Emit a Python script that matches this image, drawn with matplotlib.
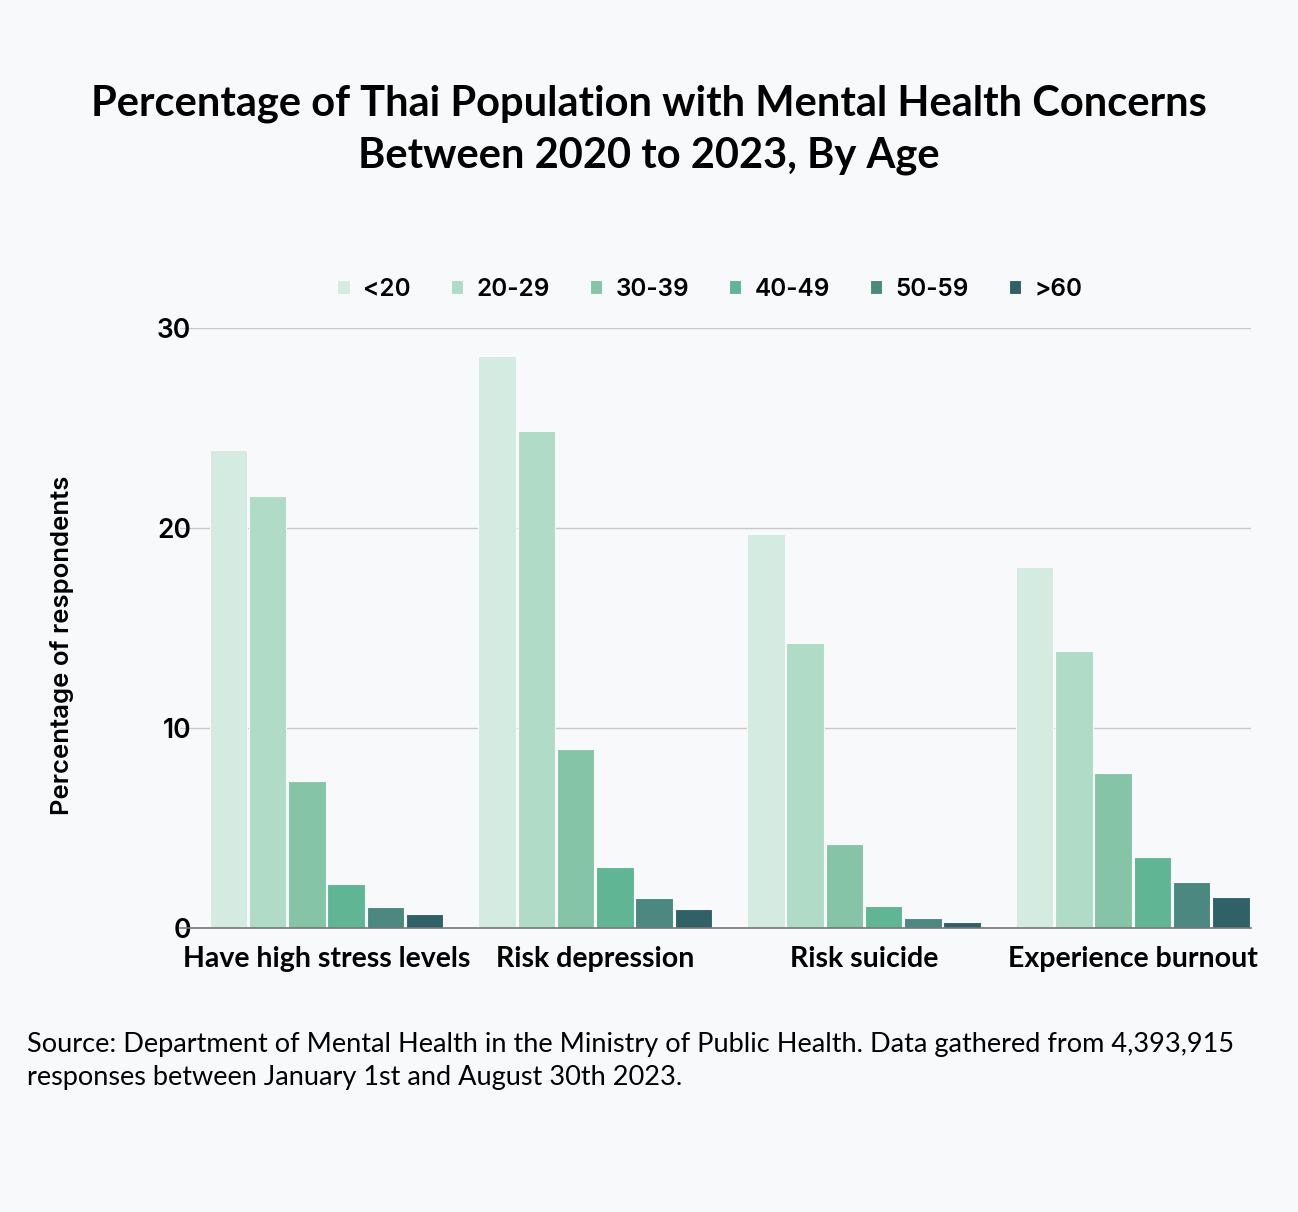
import matplotlib
matplotlib.use("Agg")
import matplotlib.pyplot as plt
import numpy as np

# Data
categories = ["Have high stress levels", "Risk depression", "Risk suicide", "Experience burnout"]
age_groups = ["<20", "20-29", "30-39", "40-49", "50-59", ">60"]
under_20 = [23.9, 28.6, 19.7, 18.05]
age_20_29 = [21.6, 24.85, 14.25, 13.85]
age_30_39 = [7.35, 8.95, 4.2, 7.75]
age_40_49 = [2.2, 3.05, 1.1, 3.55]
age_50_59 = [1.05, 1.5, 0.5, 2.3]
over_60 = [0.7, 0.95, 0.3, 1.55]
series = [under_20, age_20_29, age_30_39, age_40_49, age_50_59, over_60]

colors = ["#d4ebe1", "#b0dbc7", "#86c4a7", "#60b594", "#4a8880", "#2f6166"]
BG = "#f8f9fb"

fig = plt.figure(figsize=(12.98, 12.12), dpi=100, facecolor=BG)
ax = fig.add_axes([0.1387, 0.2343, 0.8251, 0.4951])
ax.set_facecolor(BG)

x = np.arange(len(categories))
slot = 0.146
width = 0.140
offsets = (np.arange(len(age_groups)) - (len(age_groups) - 1) / 2) * slot
for vals, off, col, lab in zip(series, offsets, colors, age_groups):
    ax.bar(x + off, vals, width=width, color=col, label=lab,
           edgecolor=BG, linewidth=0.8, zorder=3)

ax.set_xlim(-0.545, 3.44)
ax.set_ylim(0, 30)
ax.set_yticks([0, 10, 20, 30])
ax.yaxis.grid(True, color="#c8c8c8", linewidth=1.0, zorder=0)
ax.set_axisbelow(True)
for s in ["top", "right", "left"]:
    ax.spines[s].set_visible(False)
ax.spines["bottom"].set_color("#777777")
ax.spines["bottom"].set_linewidth(1.2)
ax.spines["bottom"].set_zorder(4)

ax.set_xticks(x)
ax.set_xticklabels(categories, fontsize=20.5, fontweight="bold", family="Lato")
ax.tick_params(axis="x", length=0, pad=13)
ax.tick_params(axis="y", length=0, pad=-8)
for t in ax.get_yticklabels():
    t.set_fontsize(19)
    t.set_fontweight("semibold")
    t.set_family("Inter")

fig.text(62 / 1298, 1 - 645 / 1212, "Percentage of respondents", rotation=90,
         ha="center", va="center", fontsize=18.5, fontweight="semibold", family="Inter")

fig.legend(*ax.get_legend_handles_labels(), loc="center",
           bbox_to_anchor=(710 / 1298, 1 - 289 / 1212), ncol=6,
           frameon=False, handlelength=0.5, handleheight=0.5,
           columnspacing=1.65, handletextpad=0.55,
           prop={"family": "Inter", "weight": "semibold", "size": 17.5})

fig.text(0.5, 1 - 129.5 / 1212, "Percentage of Thai Population with Mental Health Concerns\nBetween 2020 to 2023, By Age",
         ha="center", va="center", fontsize=30, fontweight="bold", family="Lato",
         linespacing=1.42)

fig.text(27 / 1298, 1 - 1061 / 1212, "Source: Department of Mental Health in the Ministry of Public Health. Data gathered from 4,393,915\n"
         "responses between January 1st and August 30th 2023.",
         ha="left", va="center", fontsize=19.5, family="Lato", linespacing=1.42)

fig.savefig("out.png", dpi=100, facecolor=BG)
